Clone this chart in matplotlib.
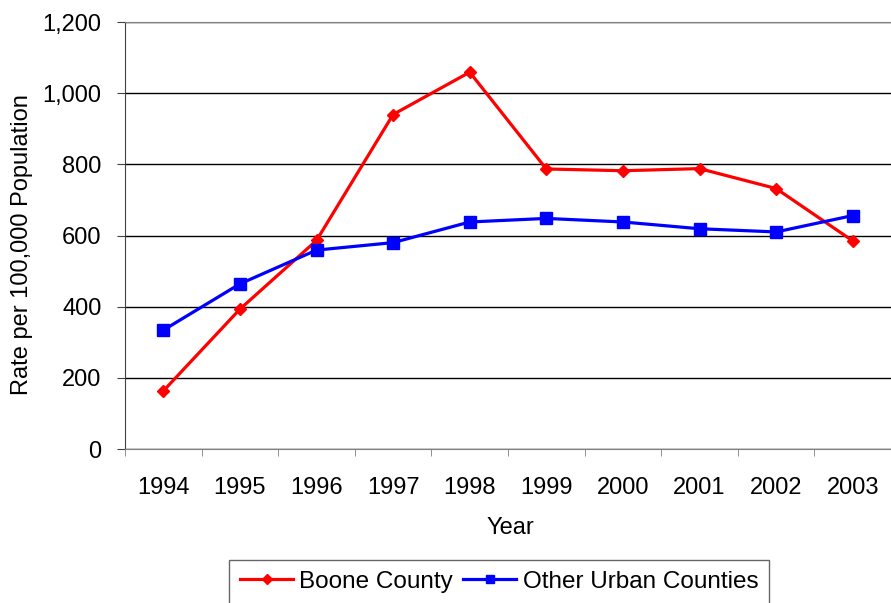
import matplotlib.pyplot as plt
import numpy as np
from matplotlib.ticker import FuncFormatter, MultipleLocator

plt.rcParams['font.family'] = ['Liberation Sans', 'DejaVu Sans']

years = ["1994", "1995", "1996", "1997", "1998", "1999", "2000", "2001", "2002", "2003"]
boone = [163, 393, 586, 940, 1059, 787, 782, 788, 732, 585]
other_urban = [334, 464, 559, 580, 638, 648, 638, 619, 610, 656]

fig = plt.figure(figsize=(8.91, 6.03), dpi=100)
ax = fig.add_axes([125 / 891, 1 - 449 / 603, 1 - 125 / 891, (449 - 22) / 603])

x = np.arange(len(years))
ax.plot(x, boone, color="#ff0000", lw=2.3, marker="D", ms=6.5, label="Boone County")
ax.plot(x, other_urban, color="#0000ff", lw=2.3, marker="s", ms=8, label="Other Urban Counties")

ax.set_xlim(-0.5, len(years) - 0.5)
ax.set_ylim(0, 1200)
ax.yaxis.set_major_locator(MultipleLocator(200))
ax.yaxis.set_major_formatter(FuncFormatter(lambda v, p: f"{int(v):,}"))
ax.grid(axis="y", color="black", lw=1)
ax.set_axisbelow(True)

ax.set_xticks(x)
ax.set_xticklabels(years)
ax.set_xticks(np.arange(-0.5, len(years)), minor=True)
ax.tick_params(axis="x", which="major", length=0, pad=20, labelsize=17)
ax.tick_params(axis="x", which="minor", length=5, color="#808080", direction="out")
ax.tick_params(axis="y", length=6, pad=11, labelsize=17, direction="out", color="#404040")

for s in ["top", "bottom"]:
    ax.spines[s].set_color("#808080")
ax.spines["left"].set_color("#404040")
ax.spines["right"].set_visible(False)

fig.text(510 / 891, 1 - 528 / 603, "Year", fontsize=17, ha="center", va="center")
fig.text(22 / 891, 1 - 245 / 603, "Rate per 100,000 Population", fontsize=17,
         ha="center", va="center", rotation=90)

leg = fig.legend(loc="upper left", bbox_to_anchor=(229 / 891, 1 - 560 / 603),
                 ncol=2, fontsize=17.5, frameon=True, fancybox=False,
                 handlelength=2.2, handletextpad=0.25, columnspacing=0.4,
                 markerscale=0.8, borderpad=0.45, borderaxespad=0)
leg.get_frame().set_edgecolor("#404040")
leg.get_frame().set_linewidth(1)

fig.savefig("out.png", dpi=100)
